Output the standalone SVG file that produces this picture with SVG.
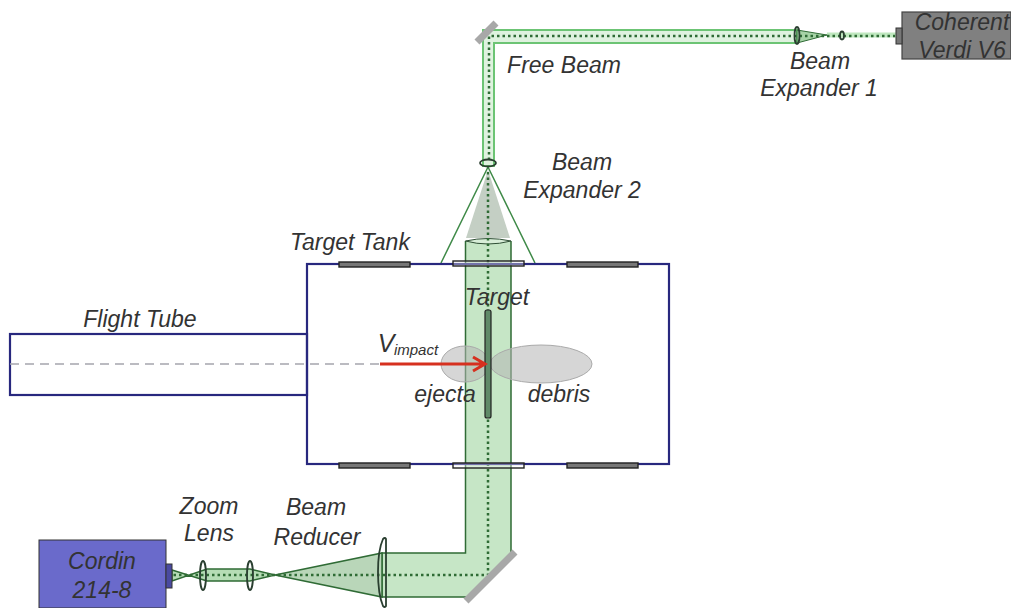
<svg xmlns="http://www.w3.org/2000/svg" width="1011" height="608" viewBox="0 0 1011 608">
<style>
text{font-family:"Liberation Sans",Arial,sans-serif;font-style:italic;font-size:23px;fill:#333;text-anchor:middle}
.beam{fill:#c6e6c6;stroke:#2f6b35;stroke-width:1.5}
.bright{fill:#dff2df;stroke:#6cc474;stroke-width:2}
.dot{fill:none;stroke:#2f6b35;stroke-width:2.500;stroke-dasharray:2.500 3}
.lens{fill:none;stroke:#2a3f30;stroke-width:1.8}
.wall{fill:none;stroke:#28287e;stroke-width:2.200}
.win{stroke:#222;stroke-width:1.400}
.mirror{stroke:#a8a8a8;stroke-width:7}
</style>
<rect width="1011" height="608" fill="#fff"/>
<g id="connectors">
<path class="bright" d="M483 166V30H797V43H494V166Z"/>
<path d="M797 30L827 35L797 43Z" fill="#a6d3a6" stroke="#2f6b35"/>
<path d="M827 35H896" stroke="#bfe8bf" stroke-width="5"/>
<path class="dot" d="M489 160V36H895"/>
<path d="M488 170L466 238H510Z" fill="#c4cfc4"/>
<path d="M488 167L441 263M488 167L535 263" fill="none" stroke="#3f8a48" stroke-width="1.500"/>
<path class="beam" d="M465.500 241V553H382V597H470L511 556V241"/>
<path d="M465.500 241Q488 247 511 241Q488 236 465.500 241Z" fill="#d8eed8" stroke="#2f4f35"/>
<path d="M275 575L382 553V597Z" fill="#b9d6b9" stroke="#2f6b35" stroke-width="1.500"/>
<path d="M172 570L207 581H250L275 575L250 569H207L172 581Z" fill="#b5dcb5" stroke="#2f6b35" stroke-width="1.500"/>
<path class="dot" d="M488 172V575H172"/>
</g>
<g id="flight-tube">
<rect class="wall" x="10" y="334" width="297" height="61" fill="none"/>
<path d="M10 364H380" stroke="#a5a5ad" stroke-width="1.500" stroke-dasharray="9 6"/>
<text x="140" y="327">Flight Tube</text>
</g>
<g id="target-tank">
<rect class="wall" x="307" y="264" width="362" height="200"/>
<g fill="#777">
<rect class="win" x="339" y="262" width="71" height="5"/>
<rect class="win" x="567" y="262" width="71" height="5"/>
<rect class="win" x="339" y="463" width="71" height="5"/>
<rect class="win" x="567" y="463" width="71" height="5"/>
</g>
<rect class="win" x="453" y="261" width="71" height="5" fill="#fff" fill-opacity=".35"/>
<rect class="win" x="453" y="463" width="71" height="5" fill="#fff" fill-opacity=".35"/>
<text x="350" y="250">Target Tank</text>
</g>
<g id="debris-cloud">
<ellipse cx="541" cy="364" rx="51" ry="19" fill="#b5b5b5" fill-opacity=".55" stroke="#aaa"/>
<text x="559" y="402">debris</text>
</g>
<g id="ejecta-cloud">
<ellipse cx="465" cy="364" rx="24" ry="18" fill="#b5b5b5" fill-opacity=".55" stroke="#aaa"/>
<text x="445" y="402">ejecta</text>
</g>
<g id="target">
<rect x="485" y="310" width="6" height="108" rx="2" fill="#5f8a68" stroke="#222" stroke-width="1.200"/>
<text x="497" y="305">Target</text>
</g>
<g id="impactor">
<path d="M380 364H484M473 357L485 364L473 371" fill="none" stroke="#d6301f" stroke-width="3"/>
<text x="386" y="352" style="font-size:25px">V</text>
<text x="416" y="355" style="font-size:15px">impact</text>
</g>
<g id="mirror-top"><path class="mirror" d="M477 42L496 23"/></g>
<g id="mirror-bottom"><path class="mirror" d="M466 601L515 552"/></g>
<g id="free-beam-label"><text x="564" y="73">Free Beam</text></g>
<g id="beam-expander-1">
<ellipse class="lens" cx="797" cy="35.500" rx="2.500" ry="8.500"/>
<ellipse class="lens" cx="842" cy="35.500" rx="2" ry="4"/>
<text x="820" y="69">Beam</text>
<text x="819" y="96">Expander 1</text>
</g>
<g id="beam-expander-2">
<ellipse class="lens" cx="488" cy="163" rx="8" ry="3.500"/>
<text x="582" y="170">Beam</text>
<text x="582" y="198">Expander 2</text>
</g>
<g id="laser">
<rect x="902" y="12" width="109" height="47" fill="#808080" stroke="#444" stroke-width="1.200"/>
<rect x="896" y="28" width="6" height="16" fill="#777" stroke="#333"/>
<text x="962" y="30">Coherent</text>
<text x="962" y="58">Verdi V6</text>
</g>
<g id="camera">
<rect x="39" y="540" width="127" height="68" fill="#6a6acb" stroke="#333"/>
<rect x="166" y="564" width="6" height="24" fill="#4a4aa0" stroke="#333"/>
<text x="102" y="569">Cordin</text>
<text x="102" y="598">214-8</text>
</g>
<g id="zoom-lens">
<ellipse class="lens" cx="203" cy="575.500" rx="3" ry="14.500"/>
<ellipse class="lens" cx="250" cy="575.500" rx="3" ry="14.500"/>
<text x="209" y="514">Zoom</text>
<text x="209" y="541">Lens</text>
</g>
<g id="beam-reducer">
<path class="lens" d="M378 572Q378 550 383 539Q385 537 386 539V606Q385 608 383 606Q378 594 378 572Z"/>
<text x="316" y="515">Beam</text>
<text x="317" y="545">Reducer</text>
</g>
</svg>
